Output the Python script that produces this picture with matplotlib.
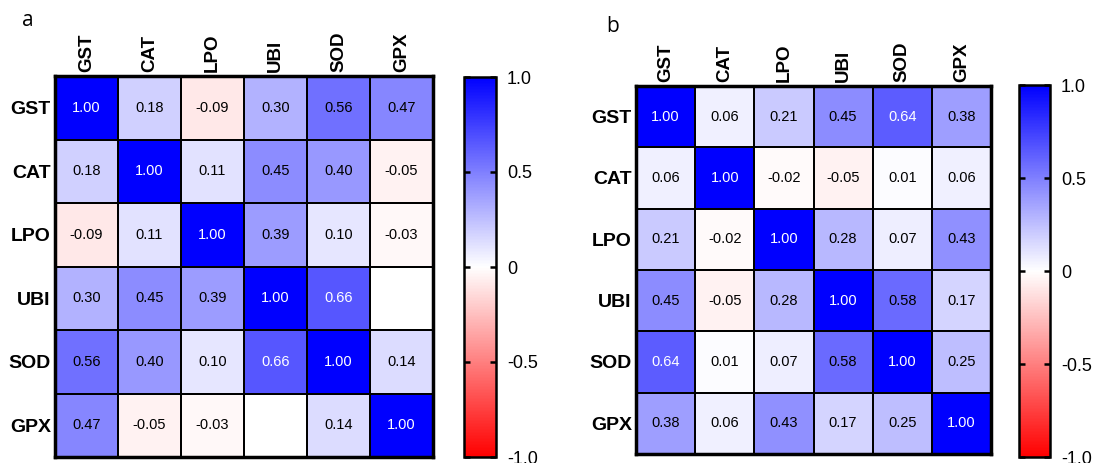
import numpy as np
import matplotlib
matplotlib.use("Agg")
import matplotlib.pyplot as plt
from matplotlib.colors import LinearSegmentedColormap

plt.rcParams['font.family'] = ['Liberation Sans', 'DejaVu Sans']

labels = ["GST", "CAT", "LPO", "UBI", "SOD", "GPX"]

# panel a (blank cells stored as NaN)
corr_a = [
    [1.00, 0.18, -0.09, 0.30, 0.56, 0.47],
    [0.18, 1.00, 0.11, 0.45, 0.40, -0.05],
    [-0.09, 0.11, 1.00, 0.39, 0.10, -0.03],
    [0.30, 0.45, 0.39, 1.00, 0.66, np.nan],
    [0.56, 0.40, 0.10, 0.66, 1.00, 0.14],
    [0.47, -0.05, -0.03, np.nan, 0.14, 1.00],
]

# panel b
corr_b = [
    [1.00, 0.06, 0.21, 0.45, 0.64, 0.38],
    [0.06, 1.00, -0.02, -0.05, 0.01, 0.06],
    [0.21, -0.02, 1.00, 0.28, 0.07, 0.43],
    [0.45, -0.05, 0.28, 1.00, 0.58, 0.17],
    [0.64, 0.01, 0.07, 0.58, 1.00, 0.25],
    [0.38, 0.06, 0.43, 0.17, 0.25, 1.00],
]

cbar_ticks = [-1.0, -0.5, 0.0, 0.5, 1.0]
cbar_ticklabels = ["-1.0", "-0.5", "0", "0.5", "1.0"]

W, H = 1094, 463
cmap = LinearSegmentedColormap.from_list("rwb", ["#ff0000", "#ffffff", "#0000ff"])
cmap.set_bad("white")

fig = plt.figure(figsize=(W / 100, H / 100), dpi=100)


def px_axes(x0, y0, x1, y1):
    # pixel box (top-left origin) -> figure axes
    return fig.add_axes([x0 / W, 1 - y1 / H, (x1 - x0) / W, (y1 - y0) / H])


def draw_panel(data, box, cbox, letter, letter_xy):
    data = np.ma.masked_invalid(np.array(data, dtype=float))
    ax = px_axes(*box)
    mesh = ax.pcolormesh(data, cmap=cmap, vmin=-1, vmax=1,
                         edgecolors="black", linewidth=1.3)
    ax.set_xlim(0, 6)
    ax.set_ylim(6, 0)
    n = len(labels)
    for i in range(n):
        for j in range(n):
            v = data[i, j]
            if np.ma.is_masked(v):
                continue
            col = "white" if v > 0.6 else "black"
            ax.text(j + 0.5, i + 0.5, f"{v:.2f}", ha="center", va="center",
                    fontsize=10.5, color=col)
    ax.xaxis.tick_top()
    ax.set_xticks(np.arange(n) + 0.5)
    ax.set_xticklabels(labels, rotation=90, fontsize=13.5, fontweight="bold")
    ax.set_yticks(np.arange(n) + 0.5)
    ax.set_yticklabels(labels, fontsize=14, fontweight="bold")
    ax.tick_params(length=0, pad=3)
    for s in ax.spines.values():
        s.set_linewidth(2.5)

    cax = px_axes(*cbox)
    cb = fig.colorbar(mesh, cax=cax)
    cb.set_ticks(cbar_ticks)
    cb.set_ticklabels(cbar_ticklabels)
    cb.outline.set_linewidth(1.8)
    cax.tick_params(direction="in", left=True, right=True, length=4,
                    width=1.8, labelsize=13, pad=8)

    fig.text(letter_xy[0] / W, 1 - letter_xy[1] / H, letter, fontsize=15,
             ha="center", va="center", family="Open Sans")


draw_panel(corr_a, (55, 76, 433, 457), (464, 77, 496, 457), "a", (28, 20))
draw_panel(corr_b, (636, 86, 991, 454), (1019, 85, 1050, 457), "b", (613, 27))

plt.savefig("out.png", dpi=100)
